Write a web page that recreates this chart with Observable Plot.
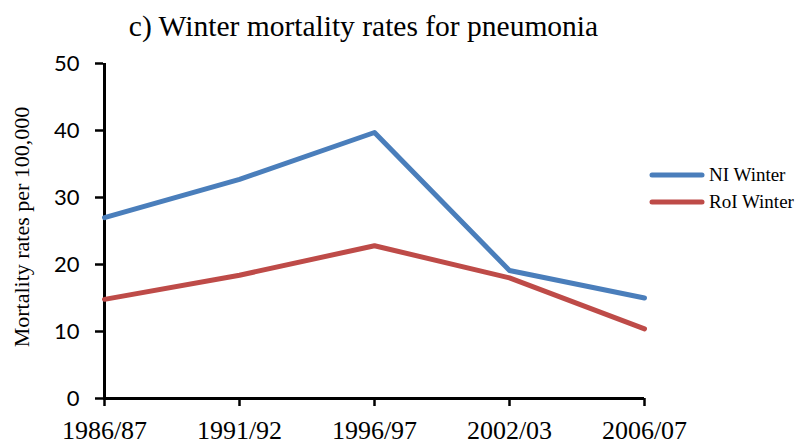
<!DOCTYPE html>
<html><head><meta charset="utf-8">
<script src="https://cdn.jsdelivr.net/npm/d3@7"></script>
<script src="https://cdn.jsdelivr.net/npm/@observablehq/plot@0.6"></script>
<style>
body{margin:0;background:#fff;}
#wrap{position:relative;width:810px;height:446px;background:#fff;}
#title{position:absolute;left:0;width:727px;top:9px;text-align:center;font-family:"Liberation Serif",serif;font-size:29.5px;line-height:34px;color:#000;white-space:nowrap;}
#legend{position:absolute;left:649px;top:161px;font-family:"Liberation Serif",serif;font-size:19px;color:#000;}
.row{display:flex;align-items:center;height:27px;white-space:nowrap;}
.row svg{margin-right:4px;}
</style></head>
<body>
<div id="wrap"><div id="title"></div><div id="legend"></div></div>
<script>
const seasons = ["1986/87","1991/92","1996/97","2002/03","2006/07"];
const niWinter = [27.0, 32.7, 39.7, 19.1, 15.0];
const roiWinter = [14.8, 18.4, 22.8, 18.0, 10.4];
const seriesNames = ["NI Winter","RoI Winter"];
const seriesColors = ["#4A7EBB","#BE4B48"];
const yTicks = [0,10,20,30,40,50];
const titleText = "c) Winter mortality rates for pneumonia";
const yLabel = "Mortality rates per 100,000";

const data = [
  ...seasons.map((s,i)=>({season:s, value:niWinter[i], series:seriesNames[0]})),
  ...seasons.map((s,i)=>({season:s, value:roiWinter[i], series:seriesNames[1]}))
];

const chart = Plot.plot({
  width:810, height:446,
  marginLeft:103, marginRight:166, marginTop:63, marginBottom:48,
  x:{type:"point", domain:seasons, padding:0},
  y:{domain:[0,50]},
  color:{domain:seriesNames, range:seriesColors},
  style:{background:"#fff", color:"#000"},
  marks:[
    Plot.axisY({ticks:yTicks, tickSize:8, tickPadding:16, fontSize:22, fontFamily:"Lato", label:null, strokeWidth:2.5}),
    Plot.axisX({tickSize:8, tickPadding:14, fontSize:26, fontFamily:"Liberation Serif", label:null, strokeWidth:2.5}),
    Plot.ruleX([seasons[0]], {y1:0, y2:50, stroke:"#000", strokeWidth:3}),
    Plot.ruleY([0], {stroke:"#000", strokeWidth:3}),
    Plot.line(data, {x:"season", y:"value", stroke:"series", strokeWidth:5, strokeLinecap:"round", strokeLinejoin:"round"}),
    Plot.text([yLabel], {frameAnchor:"left", textAnchor:"middle", rotate:-90, dx:-82, dy:-4, fontSize:22, fontFamily:"Liberation Serif", fill:"#000"})
  ]
});
const wrap = document.getElementById("wrap");
wrap.insertBefore(chart, wrap.firstChild);
chart.style.position = "absolute"; chart.style.left = "0"; chart.style.top = "0";
document.getElementById("title").textContent = titleText;
const leg = document.getElementById("legend");
seriesNames.forEach((n,i)=>{
  const row = document.createElement("div"); row.className="row";
  row.innerHTML = `<svg width="56" height="8"><line x1="3" y1="4" x2="53" y2="4" stroke="${seriesColors[i]}" stroke-width="5" stroke-linecap="round"/></svg><span>${n}</span>`;
  leg.appendChild(row);
});
</script>
</body></html>
